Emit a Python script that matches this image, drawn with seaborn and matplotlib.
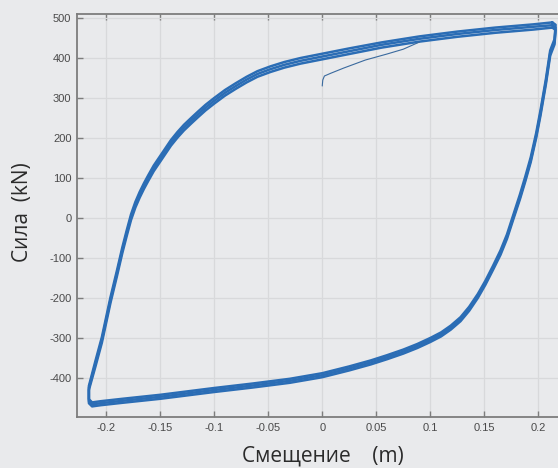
import numpy as np
import pandas as pd
import matplotlib.pyplot as plt
import seaborn as sns

# hysteresis cycles: displacement (m) shared, force (kN) per cycle
cycle_x = [0.213, 0.216, 0.215, 0.211, 0.207, 0.202, 0.198, 0.193, 0.188, 0.183,
           0.177, 0.171, 0.165, 0.158, 0.151, 0.144, 0.136, 0.128, 0.119, 0.110,
           0.100, 0.088, 0.075, 0.060, 0.045, 0.025, 0.000, -0.030, -0.065, -0.100,
           -0.150, -0.185, -0.205, -0.213, -0.216, -0.216, -0.210, -0.204, -0.196, -0.190,
           -0.185, -0.181, -0.177, -0.173, -0.169, -0.165, -0.161, -0.156, -0.150, -0.145,
           -0.140, -0.134, -0.128, -0.121, -0.115, -0.108, -0.100, -0.090, -0.080, -0.070,
           -0.060, -0.048, -0.035, -0.020, -0.005, 0.025, 0.055, 0.090, 0.125, 0.160,
           0.195, 0.213]
cycle_a_y = [482, 476, 440, 412, 340, 262, 205, 145, 97, 52,
             3, -47, -87, -125, -162, -195, -227, -253, -274, -291,
             -305, -320, -334, -348, -361, -376, -393, -407, -419, -430,
             -447, -457, -463, -466, -458, -425, -365, -305, -205, -138,
             -80, -38, 2, 33, 58, 80, 100, 124, 148, 168,
             188, 208, 226, 244, 259, 276, 293, 313, 330, 346,
             360, 372, 383, 393, 401, 417, 433, 448, 460, 470,
             478, 482]
cycle_b_y = [489, 483, 447, 419, 347, 269, 212, 152, 104, 59,
             9, -41, -81, -120, -157, -190, -222, -248, -269, -286,
             -300, -315, -329, -343, -356, -371, -388, -402, -414, -425,
             -442, -452, -458, -461, -453, -420, -358, -298, -198, -131,
             -73, -31, 9, 40, 65, 87, 107, 131, 155, 175,
             195, 215, 233, 251, 266, 283, 300, 320, 337, 353,
             367, 379, 390, 400, 408, 424, 439, 454, 466, 476,
             484, 489]
cycle_c_y = [476, 470, 434, 406, 334, 256, 200, 140, 92, 47,
             -2, -52, -92, -130, -167, -200, -232, -258, -279, -296,
             -310, -325, -339, -353, -366, -381, -398, -412, -424, -435,
             -452, -462, -468, -471, -463, -430, -372, -312, -212, -145,
             -87, -45, -5, 26, 51, 73, 93, 117, 141, 161,
             181, 201, 219, 237, 252, 269, 286, 306, 323, 339,
             353, 365, 376, 386, 394, 410, 426, 441, 453, 463,
             471, 476]

# first loading branch
init_x = [0.000, 0.0005, 0.002, 0.008, 0.020, 0.040, 0.060, 0.075, 0.090]
init_y = [330, 345, 355, 362, 375, 395, 410, 422, 440]

x_ticks = [-0.2, -0.15, -0.1, -0.05, 0, 0.05, 0.1, 0.15, 0.2]
x_labels = ["-0.2", "-0.15", "-0.1", "-0.05", "0", "0.05", "0.1", "0.15", "0.2"]
y_ticks = [-400, -300, -200, -100, 0, 100, 200, 300, 400, 500]
y_labels = ["-400", "-300", "-200", "-100", "0", "100", "200", "300", "400", "500"]

bg = "#e9eaec"
sns.set_style("ticks", {"axes.facecolor": bg, "figure.facecolor": bg})
plt.rcParams['font.family'] = ['Liberation Sans', 'DejaVu Sans']

df = pd.concat([
    pd.DataFrame({"disp": cycle_x, "force": cycle_a_y, "cycle": 1}),
    pd.DataFrame({"disp": cycle_x, "force": cycle_b_y, "cycle": 2}),
    pd.DataFrame({"disp": cycle_x, "force": cycle_c_y, "cycle": 3}),
], ignore_index=True)

fig = plt.figure(figsize=(5.58, 4.68), dpi=100)
ax = fig.add_axes([77 / 558, 1 - 417 / 468, 484 / 558, 403 / 468])

sns.lineplot(data=df, x="disp", y="force", units="cycle", estimator=None, sort=False,
             color="#2b6db5", lw=1.8, ax=ax, legend=False)
sns.lineplot(x=init_x, y=init_y, sort=False, estimator=None, color="#3a6a9e", lw=0.8, ax=ax)

ax.set_xlim(-0.227, 0.221)
ax.set_ylim(-497.5, 510)
ax.set_xticks(x_ticks, x_labels)
ax.set_yticks(y_ticks, y_labels)
ax.grid(True, color="#d8d9db", lw=0.9)
ax.set_axisbelow(True)

for side in ["left", "bottom", "top"]:
    ax.spines[side].set_color("#7d7d7d")
    ax.spines[side].set_linewidth(1.3)
ax.spines["right"].set_visible(False)
ax.tick_params(direction="in", length=4, width=1, color="#7d7d7d", top=True,
               labelsize=8, labelcolor="#4a4a4a", pad=4)

lab = dict(fontsize=15, color="#2b2b2b", family=["Open Sans", "DejaVu Sans"])
ax.set_xlabel("Смещение    (m)", **lab)
ax.set_ylabel("Сила  (kN)", **lab)
ax.xaxis.label.set_va("center")
ax.yaxis.label.set_va("center")
ax.xaxis.set_label_coords(0.508, -0.097)
ax.yaxis.set_label_coords(-0.112, 0.509)

fig.savefig("out.png", dpi=100)
